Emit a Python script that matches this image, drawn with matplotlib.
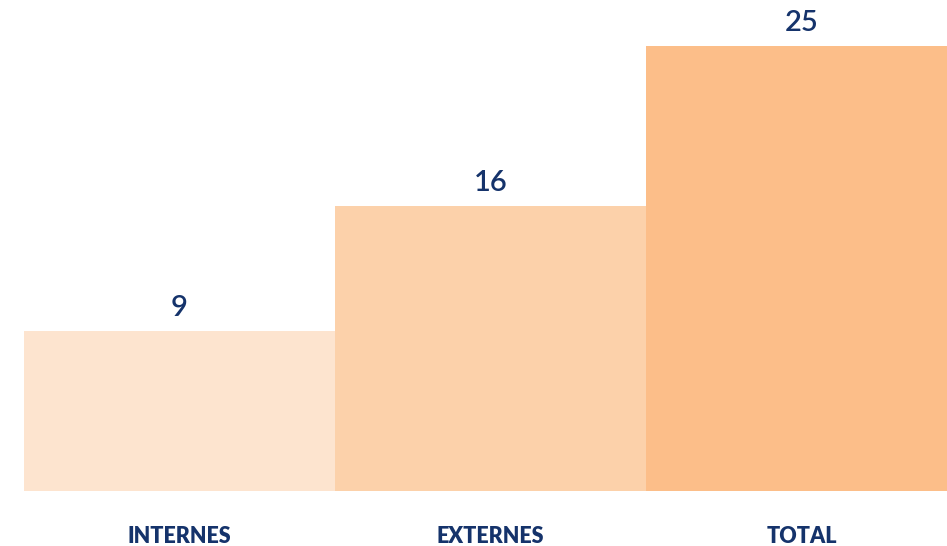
import matplotlib
matplotlib.use("Agg")
import matplotlib.pyplot as plt

categories = ["INTERNES", "EXTERNES", "TOTAL"]
values = [9, 16, 25]
bar_colors = ["#FDE4CF", "#FCD1AA", "#FCBE89"]
text_color = "#15336B"

plt.rcParams["font.family"] = ["Lato", "DejaVu Sans"]

fig = plt.figure(figsize=(9.47, 5.46), dpi=100)
ax = fig.add_axes([24 / 947, 55 / 546, 1 - 24 / 947, 445 / 546])

x = range(len(categories))
ax.bar(x, values, width=1.0, color=bar_colors, linewidth=0)

for xi, v in zip(x, values):
    ax.text(xi, v + 0.55, str(v), ha="center", va="bottom",
            fontsize=21, fontweight="semibold", color=text_color, clip_on=False)

ax.set_xlim(-0.5, 2.5 - 10 / 311)
ax.set_ylim(0, 25)
ax.set_xticks(list(x))
ax.set_xticklabels(categories, fontsize=15.5, fontweight="heavy", color=text_color)
ax.tick_params(axis="x", length=0, pad=25)
ax.set_yticks([])
for s in ax.spines.values():
    s.set_visible(False)

fig.savefig("out.png", dpi=100)
